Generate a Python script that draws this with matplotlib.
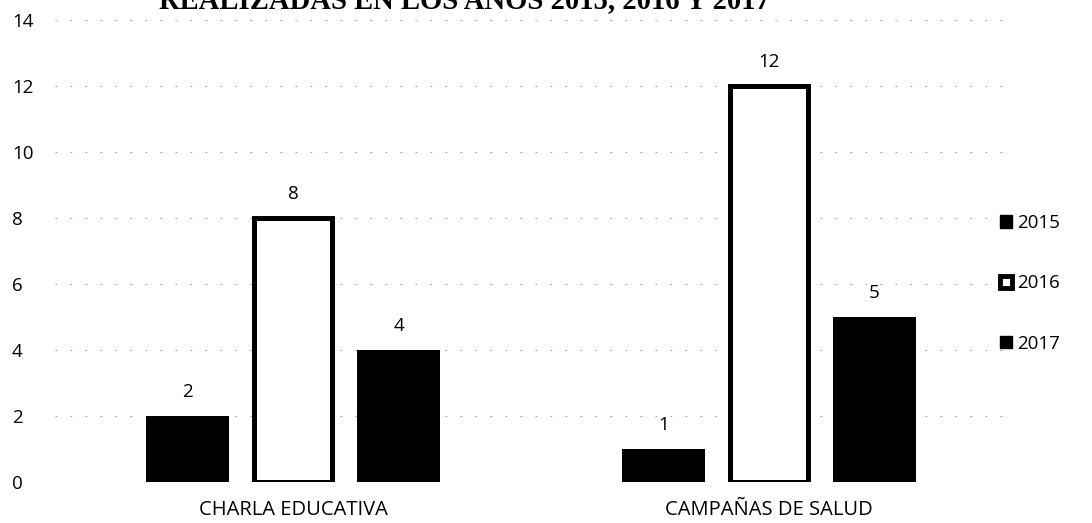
import matplotlib
matplotlib.use('Agg')
import matplotlib.pyplot as plt
import numpy as np
from matplotlib.patches import Rectangle

# ----------------------------------------------------------------------------------------------------------------------
categories = ['CHARLA EDUCATIVA', 'CAMPAÑAS DE SALUD']
years = ['2015', '2016', '2017']
v_2015 = [2, 1]
v_2016 = [8, 12]
v_2017 = [4, 5]
y_ticks = [0, 2, 4, 6, 8, 10, 12, 14]
title = 'REALIZADAS EN LOS AÑOS 2015, 2016 Y 2017'

plt.rcParams['font.family'] = ['Open Sans', 'DejaVu Sans']

fig = plt.figure(figsize=(10.92, 5.23), dpi=100)
ax = fig.add_axes([0.0504, 0.0784, 0.8716, 0.8834])

x = np.arange(len(categories))
off = 0.222
w = 0.174

b1 = ax.bar(x - off, v_2015, w, color='black', zorder=3)
b2 = ax.bar(x, v_2016, w - 0.010, facecolor='white', edgecolor='black', linewidth=3.6, zorder=3)
b3 = ax.bar(x + off, v_2017, w, color='black', zorder=3)

for bars, vals in ((b1, v_2015), (b2, v_2016), (b3, v_2017)):
    for b, v in zip(bars, vals):
        ax.text(b.get_x() + b.get_width() / 2, v + 0.72, str(v),
                ha='center', va='center', fontsize=13.5, color='black')

ax.set_xlim(-0.5, 1.5)
ax.set_ylim(0, 14)
ax.set_yticks(y_ticks)
ax.set_xticks(x)
ax.set_xticklabels(categories, fontsize=14.5)
ax.tick_params(axis='x', length=0, pad=13)
ax.tick_params(axis='y', length=0, pad=31, labelsize=13.5)
for lab in ax.get_yticklabels():
    lab.set_horizontalalignment('left')

for yv in y_ticks:
    ax.axhline(yv, color='#a0a0a0', linewidth=0.8, linestyle=(0, (1.5, 12)), zorder=1)
for s in ax.spines.values():
    s.set_visible(False)

# legend
handles = [Rectangle((0, 0), 1, 1, facecolor='black', edgecolor='black'),
           Rectangle((0, 0), 1, 1, facecolor='white', edgecolor='black', linewidth=3.5),
           Rectangle((0, 0), 1, 1, facecolor='black', edgecolor='black')]
fig.legend(handles, years, loc='center left', bbox_to_anchor=(0.9, 0.458),
           frameon=False, fontsize=13.5, handlelength=0.65, handleheight=0.65,
           handletextpad=0.3, labelspacing=2.25)

fig.text(0.425, 0.9828, title, ha='center', va='baseline', fontsize=20.6,
         fontweight='bold', family='Liberation Serif')

fig.savefig('out.png', dpi=100)
